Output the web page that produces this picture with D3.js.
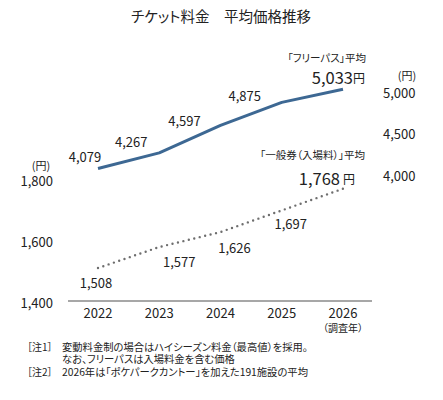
<!DOCTYPE html>
<html>
<head>
<meta charset="utf-8">
<script src="https://cdn.jsdelivr.net/npm/d3@7"></script>
<style>
  html, body { margin: 0; padding: 0; background: #fff; }
  svg { display: block; font-family: "Noto Sans CJK JP", "Noto Sans", sans-serif; }
  text { fill: #222; font-feature-settings: "palt"; }
</style>
</head>
<body>
<svg id="chart" width="443" height="400"></svg>
<script>
const years = ["2022", "2023", "2024", "2025", "2026"];
const freePass = [4079, 4267, 4597, 4875, 5033];
const general = [1508, 1577, 1626, 1697, 1768];
const leftTicks = [1400, 1600, 1800];
const rightTicks = [4000, 4500, 5000];
const title = "チケット料金\u3000平均価格推移";
const freeLabel = "「フリーパス」平均";
const generalLabel = "「一般券（入場料）」平均";
const yearNote = "（調査年）";
const notes = [
  ["［注1］", "変動料金制の場合はハイシーズン料金（最高値）を採用。"],
  ["", "なお、フリーパスは入場料金を含む価格"],
  ["［注2］", "2026年は「ポケパークカントー」を加えた191施設の平均"]
];
// label offsets (style) for non-final points
const freeOff = [[-13, -12], [-28, -11], [-36, -5], [-37, -7]];
const genOff = [[-2, 14], [20, 14], [14, 15], [9, 13]];

const fmt = d3.format(",");
const svg = d3.select("#chart");

const x = d3.scalePoint().domain(years).range([98, 343]);
const yL = d3.scaleLinear().domain([1400, 1800]).range([301, 179]);
const yR = d3.scaleLinear().domain([4000, 5000]).range([175, 92]);

// title
svg.append("text").attr("x", 221).attr("y", 15).attr("text-anchor", "middle")
  .attr("dominant-baseline", "central").style("font-size", "14.5px").text(title);

// axis baseline
svg.append("line").attr("x1", 68).attr("x2", 372).attr("y1", yL(1400)).attr("y2", yL(1400))
  .attr("stroke", "#8a8a8a").attr("stroke-width", 1.5);

// left ticks
const gL = svg.append("g");
gL.selectAll("text.tl").data(leftTicks).join("text").attr("class", "tl")
  .attr("x", 53).attr("y", d => yL(d) + 1).attr("text-anchor", "end")
  .attr("dominant-baseline", "central").style("font-size", "13px").text(d => fmt(d));
gL.append("text").attr("x", 41).attr("y", yL(1800) - 14).attr("text-anchor", "middle")
  .attr("dominant-baseline", "central").style("font-size", "11px").text("(円)");

// right ticks
const gR = svg.append("g");
gR.selectAll("text.tr").data(rightTicks).join("text").attr("class", "tr")
  .attr("x", 383).attr("y", d => yR(d)).attr("text-anchor", "start")
  .attr("dominant-baseline", "central").style("font-size", "13px").text(d => fmt(d));
gR.append("text").attr("x", 407).attr("y", yR(5000) - 17).attr("text-anchor", "middle")
  .attr("dominant-baseline", "central").style("font-size", "11px").text("(円)");

// x ticks
svg.selectAll("text.xt").data(years).join("text").attr("class", "xt")
  .attr("x", d => x(d)).attr("y", 312.5).attr("text-anchor", "middle")
  .attr("dominant-baseline", "central").style("font-size", "13px").text(d => d);
svg.append("text").attr("x", x("2026")).attr("y", 327).attr("text-anchor", "middle")
  .attr("dominant-baseline", "central").style("font-size", "10px").text(yearNote);

// lines
const freeData = years.map((y, i) => ({ y, v: freePass[i] }));
const genData = years.map((y, i) => ({ y, v: general[i] }));

svg.append("path").datum(freeData)
  .attr("d", d3.line().x(d => x(d.y)).y(d => yR(d.v)))
  .attr("fill", "none").attr("stroke", "#3d6893").attr("stroke-width", 3)
  .attr("stroke-linejoin", "round");

svg.append("path").datum(genData)
  .attr("d", d3.line().x(d => x(d.y)).y(d => yL(d.v)))
  .attr("fill", "none").attr("stroke", "#6e6e6e").attr("stroke-width", 2.4)
  .attr("stroke-linecap", "round").attr("stroke-dasharray", "0 5.6");

// data labels
svg.selectAll("text.fl").data(freeData.slice(0, 4)).join("text").attr("class", "fl")
  .attr("x", (d, i) => x(d.y) + freeOff[i][0]).attr("y", (d, i) => yR(d.v) + freeOff[i][1])
  .attr("text-anchor", "middle").attr("dominant-baseline", "central")
  .style("font-size", "13px").text(d => fmt(d.v));

svg.selectAll("text.gl").data(genData.slice(0, 4)).join("text").attr("class", "gl")
  .attr("x", (d, i) => x(d.y) + genOff[i][0]).attr("y", (d, i) => yL(d.v) + genOff[i][1])
  .attr("text-anchor", "middle").attr("dominant-baseline", "central")
  .style("font-size", "13px").text(d => fmt(d.v));

// highlighted final values
const lastF = freeData[4], lastG = genData[4];
svg.append("text").attr("x", x(lastF.y) + 23).attr("y", yR(lastF.v) - 32)
  .attr("text-anchor", "end").attr("dominant-baseline", "central")
  .style("font-size", "10.5px").text(freeLabel);
const tF = svg.append("text").attr("x", x(lastF.y) + 22).attr("y", yR(lastF.v) - 12)
  .attr("text-anchor", "end").attr("dominant-baseline", "central");
tF.append("tspan").style("font-size", "16.5px").text(fmt(lastF.v));
tF.append("tspan").style("font-size", "12px").text("円");

svg.append("text").attr("x", x(lastG.y) + 22).attr("y", yL(lastG.v) - 34)
  .attr("text-anchor", "end").attr("dominant-baseline", "central")
  .style("font-size", "10.5px").text(generalLabel);
const tG = svg.append("text").attr("x", x(lastG.y) + 12).attr("y", yL(lastG.v) - 11)
  .attr("text-anchor", "end").attr("dominant-baseline", "central");
tG.append("tspan").style("font-size", "16.5px").text(fmt(lastG.v));
tG.append("tspan").attr("dx", 3).style("font-size", "12px").text("円");

// footnotes
const gN = svg.append("g");
notes.forEach((n, i) => {
  const yy = 346 + i * 12.6;
  if (n[0]) gN.append("text").attr("x", 27).attr("y", yy).attr("dominant-baseline", "central")
    .style("font-size", "10px").text(n[0]);
  gN.append("text").attr("x", 62).attr("y", yy).attr("dominant-baseline", "central")
    .style("font-size", "10.3px").text(n[1]);
});
</script>
</body>
</html>
